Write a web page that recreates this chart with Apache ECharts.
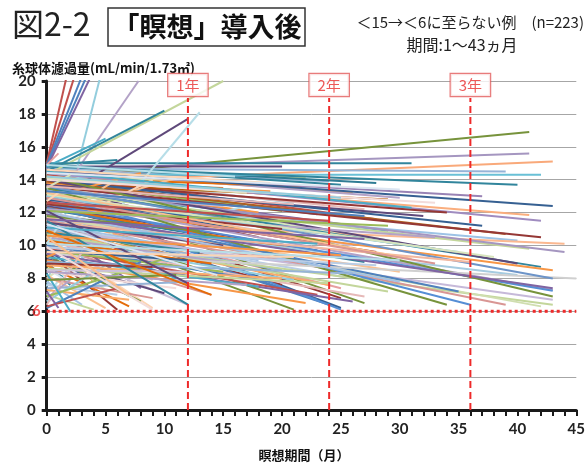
<!DOCTYPE html>
<html><head><meta charset="utf-8">
<script src="https://cdn.jsdelivr.net/npm/echarts@6/dist/echarts.min.js"></script>
<style>html,body{margin:0;padding:0;background:#fff}#c{width:588px;height:464px}</style>
</head><body><div id="c"></div>
<script>
// Each patient: [GFR at start (month 0), last month, GFR at last month]
const longLines = [
  [14.1,41,16.9],[14.6,41,15.6],[13.8,43,15.1],[15.0,31,15.0],[14.7,39,14.5],[14.3,42,14.3],[14.8,40,13.7],[14.5,37,13.0],[14.6,43,12.4],[13.8,29,12.8],
  [14.2,41,11.85],[14.4,42,11.5],[13.9,34,12.0],[13.7,32,11.8],[14.0,37,11.2],[13.9,39,10.7],[13.6,42,10.5],[12.8,40,10.3],[11.5,44,10.1],[13.2,41,9.8],
  [13.5,44,9.6],[13.5,42,8.7],[12.5,43,8.5],[14.0,40,8.9],[11.6,40,8.2],[12.8,43,7.3],[12.5,43,7.25],[14.2,43,6.9],[11.0,43,6.7],[10.5,43,6.4],
  [11.8,42,6.3],[12.0,39,6.4],[13.0,36,6.4],[13.5,34,6.4],[12.3,35,7.2],[9.5,45,8.0],[13.6,43,8.0],[11.9,43,7.4],
  [12.2,33,10.5],[13.0,35,9.6],[11.4,36,9.0],[14.5,31,12.3],[13.1,38,9.3]
];
const readMidLines = [
  [14.6,18,14.1],[14.9,25,13.7],[14.8,20,14.8],[14.9,28,13.8],[13.9,15,13.5],[13.9,19,13.3],[14.1,22,13.6],[13.2,18,10.5],[13.0,25,6.2],[11.6,21,6.1],
  [12.1,23,6.7],[11.5,20,7.6],[10.0,14,7.0],[11.0,14.5,8.2],[11.7,19,7.1],[12.0,25,7.4],[12.6,25,6.8],[13.2,27,6.5],[12.1,24,6.4],[13.0,25,6.1]
];
const risingLines = [
  [15.0,1.8,20.6],[14.9,2.5,20.6],[14.9,3.0,20.3],[14.8,3.4,20.3],[14.7,3.7,20.2],[7.5,4.5,20.1],[11.9,7.8,20.0],[14.3,15,20.0],[12.5,12,17.7],[7.0,13,18.1],
  [14.5,10,18.2],[14.8,5,16.5],[14.9,6,15.2],[14.9,1,15.6],[11.8,11,14.1],[11.5,6,14.0],[9.5,17,12.4],[12.9,8,14.4],[10.8,9,14.0],[8.0,6,11.0]
];
const midLines = [
  [14.7,24,13.9],[14.5,26,13.2],[14.8,22,14.1],[14.6,30,12.9],[14.4,21,12.6],[14.2,27,12.2],[14.0,23,11.9],[14.3,28,11.6],[13.9,20,12.1],[13.7,25,11.3],
  [13.5,29,10.9],[13.8,18,12.0],[13.4,24,10.8],[13.1,22,10.9],[13.6,30,10.2],[13.0,26,10.0],[12.9,19,10.7],[12.7,28,9.6],[12.6,17,10.9],[12.4,23,9.7],
  [12.2,27,9.0],[12.3,21,9.8],[12.0,16,10.2],[11.9,25,8.7],[11.7,30,8.4],[11.5,22,8.8],[11.3,18,9.1],[11.2,26,8.0],[11.0,20,8.5],[10.9,24,7.6],
  [10.7,29,7.2],[10.5,16,8.9],[10.4,21,7.9],[10.2,27,6.9],[10.0,19,7.8],[9.8,23,7.0],[9.7,15,8.4],[9.5,26,6.6],[9.3,18,7.5],[9.1,22,6.5],
  [14.9,16,14.2],[14.6,19,13.8],[14.1,17,13.2],[13.3,15,12.4],[12.8,14,11.6],[12.5,20,11.0],[11.8,13,10.9],[11.4,15,10.0],[10.8,13,9.6],[10.3,14,8.9],
  [14.4,30,13.4],[14.0,33,12.6],[13.2,31,9.2],[12.9,33,8.9],[12.0,30,7.8],[9.9,28,8.8],[9.0,26,8.3],[8.8,20,8.0],[8.6,24,7.7],[8.4,17,7.6],
  [14.2,25,12.9],[13.6,21,12.5],[13.3,27,11.8],[12.6,24,11.5],[12.1,29,11.2],[11.6,27,10.4],[11.1,23,10.1],[10.6,25,9.4],[10.1,30,9.1],[9.6,21,9.3]
];
const shortLines = [
  [14.9,8,14.5],[14.7,10,14.2],[14.6,6,14.0],[14.5,12,13.8],[14.3,4,13.9],[14.1,9,13.3],[13.9,11,12.9],[13.8,3,13.5],[13.6,7,12.4],[13.4,12,12.3],
  [13.2,5,12.1],[13.0,10,11.6],[12.8,2,12.3],[12.6,8,11.0],[12.4,11,10.6],[12.2,6,10.7],[12.0,9,10.1],[11.8,4,10.6],[11.8,12,9.5],[11.8,7,9.2],
  [11.8,3,8.7],[11.8,5,7.6],[11.8,9,7.9],[11.8,2,10.2],[11.6,10,8.6],[11.4,6,8.3],[11.2,8,7.4],[11.0,11,8.0],[10.8,4,7.8],[10.6,7,6.9],
  [10.4,9,6.2],[10.2,5,7.3],[10.0,12,6.4],[9.8,3,8.2],[9.6,6,6.1],[9.4,8,6.6],[9.2,10,7.1],[9.0,2,7.6],[8.8,7,6.3],[8.6,4,6.9],
  [8.4,11,7.4],[8.2,5,6.2],[8.0,9,6.8],[7.8,3,6.4],[7.6,6,7.0],[7.4,12,7.8],[7.3,7,6.7],[7.0,4,6.1],[6.8,2,7.9],[6.6,5,8.8],
  [6.4,3,9.6],[6.2,8,9.0],[6.3,6,7.4],[6.9,10,9.2],[7.2,1,6.2],[8.3,2,6.0],[9.3,1,9.6],[10.1,1,11.2],[12.7,1,13.2],[13.5,2,14.3],
  [8.5,12,8.4],[9.7,12,9.1],[8.9,9,8.7],[7.9,11,8.2],[12.1,12,7.7],[11.5,12,6.4],[10.9,14,7.0],[11.3,14.5,8.2],[9.9,9,6.1],[10.5,7,7.0]
];
const yearMonths = [12, 24, 36];
const yearLabels = ['1年', '2年', '3年'];
const thresholdGFR = 6;
const xTicks = [0,5,10,15,20,25,30,35,40,45];

// ---- styles ----
const longColors = ['#77933C','#A596C0','#F9A97A','#31859C','#95B3D7','#69C0D6','#31859C','#9983B5','#366092','#B65708',
  '#FAAE7E','#A08CC0','#953735','#5F497A','#366092','#B06020','#953735','#9DC3E6','#FBB890','#C3D69B',
  '#A596C0','#31859C','#F79646','#5F497A','#A5CBE0','#B3A2C7','#558ED5','#77933C','#C6B9D9','#C3D69B',
  '#D0DEB0','#D99694','#558ED5','#77933C','#4F81BD','#D0D0D0','#6D94C8','#8064A2','#B3A2C7','#93CDDD','#F2B8A0','#4BACC6','#D7E4BD'];
const readMidColors = ['#953735','#31859C','#5F497A','#2F7C94','#E08040','#F79646','#E46C0A','#953735','#366092','#77933C',
  '#4F81BD','#953735','#D99694','#4BACC6','#77933C','#E6A0A0','#953735','#77933C','#4F81BD','#558ED5'];
const risingColors = ['#C0504D','#C0504D','#4F81BD','#4F81BD','#8064A2','#93CDDD','#B3A2C7','#C3D69B','#5F497A','#B7DEE8',
  '#31859C','#4BACC6','#31859C','#E6A0A0','#FAC090','#FAC090','#B7DEE8','#F79646','#FCD5B5','#D7E4BD'];
const softPalette = ['#95B3D7','#F9AB6B','#C3D69B','#B3A2C7','#93CDDD','#E6B9B8','#4F81BD','#C0504D','#9BBB59','#8064A2',
  '#4BACC6','#F79646','#B7DEE8','#FCD5B5','#D7E4BD','#CCC1DA','#366092','#953735','#77933C','#5F497A','#31859C','#E46C0A',
  '#DCE6F2','#F2DCDB','#FAC090','#D99694','#A5C2E4','#B9CDE5'];

const groups = [
  { d: longLines, c: i => longColors[i % longColors.length] },
  { d: readMidLines, c: i => readMidColors[i % readMidColors.length] },
  { d: risingLines, c: i => risingColors[i % risingColors.length] },
  { d: midLines, c: i => softPalette[i % softPalette.length] },
  { d: shortLines, c: i => softPalette[(i + 11) % softPalette.length] }
];
const series = [];
const maxLen = Math.max(...groups.map(g => g.d.length));
for (let i = 0; i < maxLen; i++) for (const g of groups) if (i < g.d.length) {
  const p = g.d[i];
  series.push({
    type: 'line', data: [[0, p[0]], [p[1], p[2]]], symbol: 'none', silent: true, clip: true,
    lineStyle: { width: 2, color: g.c(i) }, z: 2
  });
}
const red = '#EE2A2A';
yearMonths.forEach(m => series.push({
  type: 'line', data: [[m, 0], [m, 18.97]], symbol: 'none', silent: true, z: 5,
  lineStyle: { color: red, width: 2, type: [7, 4] }
}));
series.push({
  type: 'line', data: [[0, thresholdGFR], [45, thresholdGFR]], symbol: 'none', silent: true, z: 5, clip: false,
  lineStyle: { color: red, width: 3, type: [3, 3] }
});
series.push({
  type: 'scatter', symbolSize: 0, silent: true, z: 10, clip: false,
  data: yearMonths.map((m, i) => ({ value: [m, 19.76], name: yearLabels[i] })),
  label: { show: true, position: 'inside', formatter: p => p.name, color: '#E8302E', fontSize: 15,
    fontFamily: 'Noto Sans CJK JP', backgroundColor: '#fff', borderColor: '#E25A5A', borderWidth: 1.2,
    padding: [4, 8, 3, 8] }
});
series.push({
  type: 'scatter', symbolSize: 0, silent: true, z: 10, clip: false,
  data: [[0, thresholdGFR]],
  label: { show: true, position: 'left', distance: 6, formatter: String(thresholdGFR), color: red,
    fontSize: 15, fontWeight: 'bold', fontFamily: 'Lato' }
});

const chart = echarts.init(document.getElementById('c'), null, { renderer: 'canvas' });
chart.setOption({
  animation: false,
  backgroundColor: '#fff',
  grid: { left: 46.7, right: 9.3, top: 81, bottom: 54, containLabel: false },
  xAxis: {
    type: 'value', min: 0, max: 45, interval: 5,
    axisLine: { show: true, lineStyle: { color: '#1a1a1a', width: 3 } },
    axisTick: { show: true, length: 6, lineStyle: { color: '#1a1a1a', width: 2 } },
    minorTick: { show: true, splitNumber: 5, length: 6, lineStyle: { color: '#1a1a1a', width: 2 } },
    splitLine: { show: false },
    axisLabel: { color: '#222', fontSize: 15, fontWeight: 'bold', fontFamily: 'Lato', margin: 12,
      formatter: v => xTicks.includes(v) ? String(v) : '' }
  },
  yAxis: {
    type: 'value', min: 0, max: 20, interval: 2,
    axisLine: { show: true, lineStyle: { color: '#1a1a1a', width: 3 } },
    axisTick: { show: true, length: 5, lineStyle: { color: '#1a1a1a', width: 3 } },
    splitLine: { show: true, lineStyle: { color: '#A6A6A6', width: 1 } },
    axisLabel: { color: '#222', fontSize: 15, fontWeight: 'bold', fontFamily: 'Lato', margin: 11 }
  },
  graphic: [
    { type: 'text', left: 12, top: 8, style: { text: '図2-2', font: '32px "Noto Sans CJK JP"', fill: '#222' } },
    { type: 'rect', shape: { x: 108, y: 8, width: 197, height: 38 }, style: { fill: 'none', stroke: '#333', lineWidth: 1.5 } },
    { type: 'text', x: 207, y: 27, style: { text: '「瞑想」導入後', font: 'bold 27px "Noto Sans CJK JP"', fill: '#111', align: 'center', verticalAlign: 'middle' } },
    { type: 'text', x: 584, y: 22, style: { text: '＜15→＜6に至らない例　(n=223)', font: '15px "Noto Sans CJK JP"', fill: '#222', align: 'right', verticalAlign: 'middle' } },
    { type: 'text', x: 462, y: 45, style: { text: '期間:1〜43ヵ月', font: '16px "Noto Sans CJK JP"', fill: '#222', align: 'center', verticalAlign: 'middle' } },
    { type: 'text', x: 12, y: 68, style: { text: '糸球体濾過量(mL/min/1.73㎡)', font: 'bold 13px "Noto Sans CJK JP"', fill: '#111', verticalAlign: 'middle' } },
    { type: 'text', x: 304, y: 455, style: { text: '瞑想期間（月）', font: 'bold 13px "Noto Sans CJK JP"', fill: '#111', align: 'center', verticalAlign: 'middle' } }
  ],
  series: series
});
</script></body></html>
